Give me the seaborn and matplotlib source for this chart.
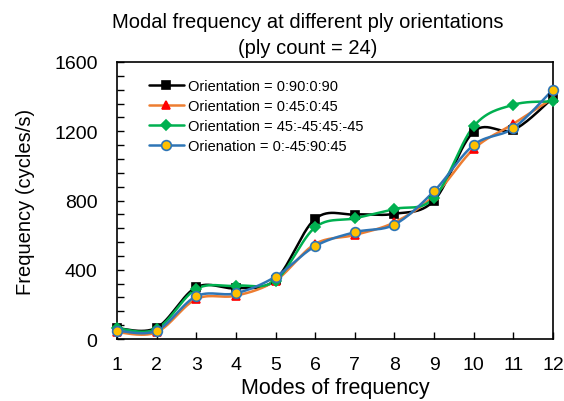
import numpy as np
import pandas as pd
import matplotlib
matplotlib.use("Agg")
import matplotlib.pyplot as plt
from matplotlib.lines import Line2D
import seaborn as sns

# modes on the x axis
modes = [1, 2, 3, 4, 5, 6, 7, 8, 9, 10, 11, 12]

# frequency (cycles/s) for each ply orientation
freq_0_90 = [62, 65, 299, 293, 343, 694, 719, 723, 800, 1198, 1208, 1393]
freq_0_45 = [39, 39, 231, 250, 337, 549, 601, 674, 828, 1098, 1243, 1391]
freq_45_m45 = [62, 58, 289, 308, 337, 645, 697, 751, 815, 1229, 1353, 1372]
freq_0_m45_90 = [48, 48, 247, 264, 360, 536, 617, 661, 854, 1121, 1218, 1441]

labels = ["Orientation = 0:90:0:90", "Orientation = 0:45:0:45",
          "Orientation = 45:-45:45:-45", "Orienation = 0:-45:90:45"]
series = [freq_0_90, freq_0_45, freq_45_m45, freq_0_m45_90]


def smooth_curve(x, y, n=30):
    # excel style smoothed line (bezier through the points)
    x = np.asarray(x, float)
    y = np.asarray(y, float)
    px = np.concatenate([[x[0]], x, [x[-1]]])
    py = np.concatenate([[y[0]], y, [y[-1]]])
    xs, ys = [], []
    t = np.linspace(0, 1, n)
    for i in range(1, len(px) - 2):
        p0 = np.array([px[i], py[i]])
        p3 = np.array([px[i + 1], py[i + 1]])
        p1 = p0 + (np.array([px[i + 1], py[i + 1]]) - np.array([px[i - 1], py[i - 1]])) / 6
        p2 = p3 - (np.array([px[i + 2], py[i + 2]]) - np.array([px[i], py[i]])) / 6
        b = ((1 - t) ** 3)[:, None] * p0 + (3 * (1 - t) ** 2 * t)[:, None] * p1 \
            + (3 * (1 - t) * t ** 2)[:, None] * p2 + (t ** 3)[:, None] * p3
        xs.extend(b[:, 0])
        ys.extend(b[:, 1])
    return np.array(xs), np.array(ys)


sns.set_theme(style="ticks")
plt.rcParams["font.family"] = ["Liberation Sans", "DejaVu Sans"]
plt.rcParams["text.color"] = "black"
plt.rcParams["axes.labelcolor"] = "black"
plt.rcParams["xtick.color"] = "black"
plt.rcParams["ytick.color"] = "black"

fig, ax = plt.subplots(figsize=(5.64, 4.02), dpi=100)
fig.subplots_adjust(left=0.2074, right=0.9805, bottom=0.1542, top=0.8433)

styles = [
    dict(line="#000000", marker="s", mfc="#000000", mec="#000000", ms=6),
    dict(line="#ED7D31", marker="^", mfc="#FF0000", mec="#FF0000", ms=6),
    dict(line="#00B050", marker="D", mfc="#00B050", mec="#00B050", ms=5),
    dict(line="#2E75B6", marker="o", mfc="#FFC000", mec="#2E75B6", ms=7),
]

handles = []
for vals, st, lab in zip(series, styles, labels):
    sx, sy = smooth_curve(modes, vals)
    sns.lineplot(x=sx, y=sy, ax=ax, color=st["line"], lw=1.8, sort=False,
                 estimator=None, legend=False)
    ax.plot(modes, vals, linestyle="none", marker=st["marker"], ms=st["ms"],
            mfc=st["mfc"], mec=st["mec"], mew=1.2, clip_on=False, zorder=3)
    handles.append(Line2D([0], [0], color=st["line"], lw=1.8, marker=st["marker"],
                          ms=st["ms"], mfc=st["mfc"], mec=st["mec"], mew=1.2))

ax.set_xlim(1, 12)
ax.set_ylim(0, 1600)
ax.set_xticks(modes)
ax.set_yticks([0, 400, 800, 1200, 1600])
ax.set_yticks(np.arange(0, 1601, 80), minor=True)
ax.tick_params(axis="x", direction="in", length=5, width=1, labelsize=14, pad=12)
ax.tick_params(axis="y", which="major", direction="in", length=5, width=1, labelsize=14, pad=14)
ax.tick_params(axis="y", which="minor", direction="in", length=5, width=1)
for s in ax.spines.values():
    s.set_color("black")
    s.set_linewidth(1.2)

ax.set_xlabel("Modes of frequency", fontsize=15.5, labelpad=3)
ax.set_ylabel("Frequency (cycles/s)", fontsize=14.5, labelpad=14)

fig.text(0.545, 0.968, "Modal frequency at different ply orientations\n(ply count = 24)",
         ha="center", va="top", fontsize=14.5, linespacing=1.5)

ax.legend(handles, labels, loc="upper left", bbox_to_anchor=(0.06, 0.96), frameon=False,
          fontsize=10.5, handlelength=2.4, handletextpad=0.3, labelspacing=0.42,
          borderaxespad=0)

fig.savefig("out.png", dpi=100)
